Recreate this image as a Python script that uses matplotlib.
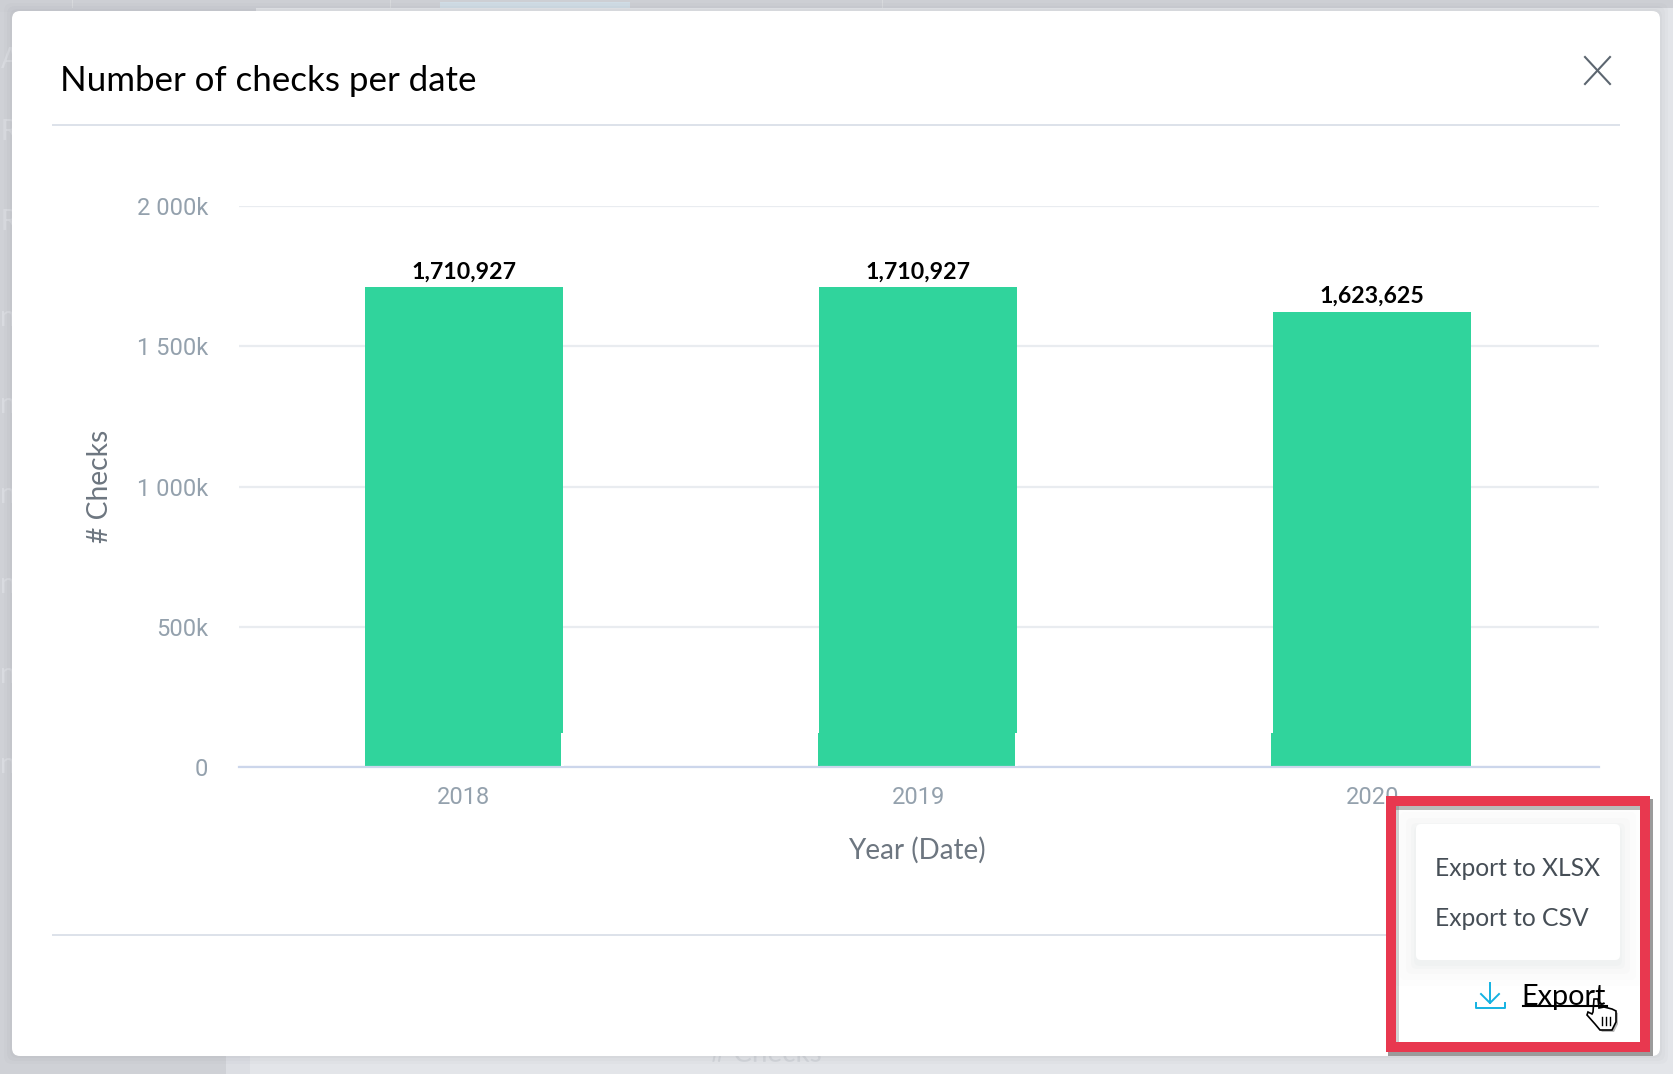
import matplotlib
matplotlib.use('Agg')
import numpy as np
import matplotlib.pyplot as plt
from matplotlib.patches import Rectangle, FancyBboxPatch, Polygon
from matplotlib.ticker import FuncFormatter

years = ['2018', '2019', '2020']
checks = [1710927, 1710927, 1623625]
yticks = [0, 500000, 1000000, 1500000, 2000000]
ytick_labels = ['0', '500k', '1 000k', '1 500k', '2 000k']
menu_items = ['Export to XLSX', 'Export to CSV']

W, H = 1674, 1074
plt.rcParams['font.family'] = ['Lato', 'DejaVu Sans']

fig = plt.figure(figsize=(W / 100, H / 100), dpi=100, facecolor='#e3e5e9')


def pixel_axes(zorder):
    ax = fig.add_axes([0, 0, 1, 1], zorder=zorder)
    ax.set_xlim(0, W)
    ax.set_ylim(H, 0)
    ax.axis('off')
    ax.patch.set_alpha(0)
    return ax


def rect(ax, x0, y0, x1, y1, color, **kw):
    ax.add_patch(Rectangle((x0, y0), x1 - x0, y1 - y0, facecolor=color, edgecolor='none', **kw))


def round_box(ax, x0, y0, x1, y1, r, color, **kw):
    ax.add_patch(FancyBboxPatch((x0 + r, y0 + r), x1 - x0 - 2 * r, y1 - y0 - 2 * r,
                                boxstyle='round,pad=%d,rounding_size=%d' % (r, r),
                                facecolor=color, edgecolor='none', **kw))


# dimmed page behind the dialog
page = pixel_axes(0)
rect(page, 0, 0, 226, H, '#cfd1d6')
rect(page, 226, 0, 250, H, '#dcdee3')
rect(page, 250, 0, W, H, '#e3e5e9')
rect(page, 0, 0, W, 8, '#cdcfd4')
rect(page, 0, 8, 256, 12, '#cdcfd4')
rect(page, 440, 2, 630, 8, '#d0dde6')
for xl in [72, 390, 882]:
    rect(page, xl, 0, xl + 1, 8, '#d8dadd')
for y, letter in [(60, 'A'), (132, 'RE'), (222, 'RE'), (318, 'nt'), (405, 'nt'), (495, 'nt'), (585, 'nt'), (675, 'nt'), (765, 'nt')]:
    page.text(0.5, y, letter, fontsize=20, color='#d9dbe0', va='center')
page.text(766, 1054, '# Checks', fontsize=20, color='#d3d6db', ha='center', va='center')

# dialog
bg = pixel_axes(0.5)
for grow, alpha in [(8, 0.03), (5, 0.04), (2, 0.05)]:
    round_box(bg, 12 - grow, 11 - grow, 1660 + grow, 1056 + grow, 8, '#7a7d85', alpha=alpha)
round_box(bg, 12, 11, 1660, 1056, 8, 'white')

rect(bg, 52, 124, 1620, 126, '#dde2ea')
rect(bg, 52, 934, 1620, 936, '#dde2ea')
bg.text(60, 81, 'Number of checks per date', fontsize=25.1, color='black', va='center')
bg.plot([1585, 1610], [57, 84], color='#5c6670', lw=1.5)
bg.plot([1585, 1610], [84, 57], color='#5c6670', lw=1.5)

# chart
ax = fig.add_axes([239 / W, 1 - 767 / H, 1360 / W, 561 / H], zorder=1)
ax.patch.set_alpha(0)
x = np.arange(len(years))
ax.bar(x, checks, width=0.436, color='#30d49c', zorder=2)
ax.set_xlim(-0.495, 2.499)
ax.set_ylim(0, 2000000)
ax.set_xticks(x)
ax.set_xticklabels(years)
ax.set_yticks(yticks)
ax.yaxis.set_major_formatter(FuncFormatter(lambda v, p: ytick_labels[yticks.index(int(v))]))
ax.grid(axis='y', color='#e9ecf0', lw=1.6, zorder=0)
ax.tick_params(length=0, labelcolor='#94a1ad')
ax.tick_params(axis='x', labelsize=17, pad=13.5)
ax.tick_params(axis='y', labelsize=17, pad=22)
for label in ax.get_xticklabels() + ax.get_yticklabels():
    label.set_family('Roboto')
for side in ['top', 'right', 'left']:
    ax.spines[side].set_visible(False)
ax.spines['bottom'].set_color('#ccd6eb')
ax.spines['bottom'].set_linewidth(1.6)
ax.set_xlabel('Year (Date)', fontsize=20, color='#6d7680', labelpad=20.5, x=0.4985)
ax.set_ylabel('# Checks', fontsize=20.3, color='#6d7680', labelpad=17)
for xi, val in zip(x, checks):
    ax.annotate(f'{val:,}', (xi, val), xytext=(0, 3.5), textcoords='offset points', ha='center', va='bottom',
                fontsize=16.7, fontweight='bold', color='black')

# screenshot seams near the foot of the bars
fg = pixel_axes(2)
rect(fg, 561, 733, 564, 766, 'white')
rect(fg, 818, 733, 820, 766, '#30d49c')
rect(fg, 1015, 733, 1018, 766, 'white')
rect(fg, 1271, 733, 1273, 766, '#30d49c')

# highlight box: drop shadow first, white inside, then the menu
rect(fg, 1388, 799, 1653, 1056, '#4a4a4a', alpha=0.55)
rect(fg, 1396, 806, 1640, 1042, 'white')
for grow, alpha in [(22, 0.01), (16, 0.012), (10, 0.015), (5, 0.018), (2, 0.02)]:
    round_box(fg, 1416 - grow, 824 - grow + 4, 1620 + grow, 960 + grow + 4, 6, '#5a6478', alpha=alpha)
round_box(fg, 1416, 824, 1620, 960, 5, 'white')
rect(fg, 1396, 806, 1640, 810, '#6a6a6a', alpha=0.45)
rect(fg, 1396, 806, 1399, 1042, '#6a6a6a', alpha=0.3)
for y, item in zip([868, 919], menu_items):
    fg.text(1435, y, item, fontsize=17.7, color='#464e56', va='center')

fg.plot([1490, 1490], [983, 1003], color='#14b2e2', lw=1.4)
fg.plot([1481, 1490, 1499], [994, 1003, 994], color='#14b2e2', lw=1.4)
fg.plot([1476, 1476, 1505, 1505], [1003, 1008, 1008, 1003], color='#14b2e2', lw=1.4)
fg.text(1521, 997, 'Export', fontsize=20.8, color='black', va='center')
fg.plot([1523, 1607], [1006, 1006], color='black', lw=1.5)
for x0, y0, x1, y1 in [(1386, 796, 1650, 806), (1386, 1042, 1650, 1052), (1386, 796, 1396, 1052), (1640, 796, 1650, 1052)]:
    rect(fg, x0, y0, x1, y1, '#e8384f')

# hand cursor
hand = [(1594, 999), (1598, 999), (1599, 1008), (1604, 1007), (1608, 1008), (1612, 1009), (1616, 1011),
        (1616, 1022), (1612, 1030), (1600, 1030), (1595, 1024), (1587, 1015), (1588, 1012), (1592, 1014), (1593, 1012)]
fg.add_patch(Polygon([(px + 2, py + 2) for px, py in hand], facecolor='#555555', edgecolor='none', alpha=0.4))
fg.add_patch(Polygon(hand, facecolor='white', edgecolor='black', lw=1.2))
for hx in [1602, 1606, 1610]:
    fg.plot([hx, hx], [1017, 1025], color='black', lw=1)

fig.savefig('out.png', dpi=100, facecolor=fig.get_facecolor())
